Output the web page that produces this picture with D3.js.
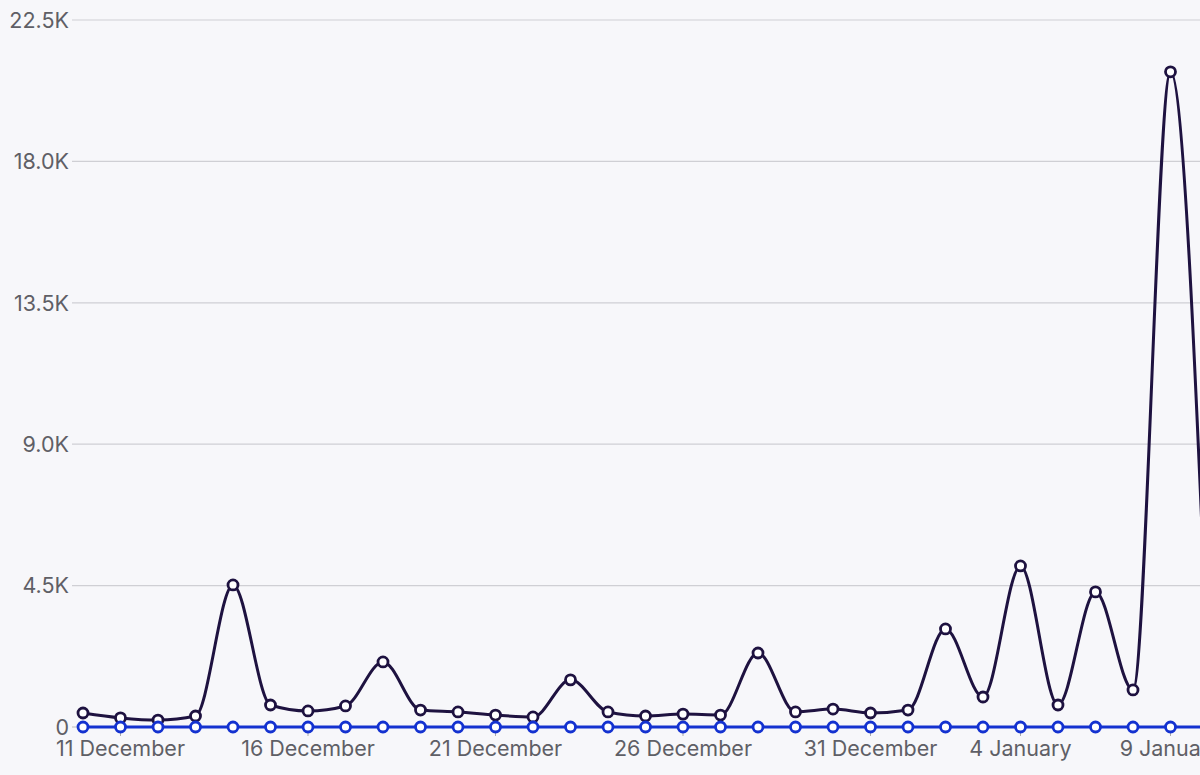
<!DOCTYPE html><html><head><meta charset="utf-8">
<script src="https://cdn.jsdelivr.net/npm/d3@7"></script>
<style>body{margin:0;background:#f7f7fa;}svg{display:block;font-family:Inter,"Open Sans",sans-serif;}</style></head><body>
<svg id="c" width="1200" height="775"></svg>
<script>
const seriesA=[445,290,220,350,4520,700,510,670,2070,540,480,380,320,1500,480,350,410,380,2355,480,570,445,540,3120,955,5125,700,4300,1180,20850,1800];
const seriesB=seriesA.map(()=>0);
const tickIdx=[1,6,11,16,21,25,29];
const tickLabels=["11 December","16 December","21 December","26 December","31 December","4 January","9 January"];
const yTicks=[0,4500,9000,13500,18000,22500];
const yLabels=["0","4.5K","9.0K","13.5K","18.0K","22.5K"];

const svg=d3.select("#c");
const x=d3.scaleLinear().domain([0,1]).range([83,120.5]);
const y=d3.scaleLinear().domain([0,22500]).range([727,20]);
const g=svg.append("g");
yTicks.forEach((t,i)=>{
  if(i>0) g.append("line").attr("x1",72).attr("x2",1200).attr("y1",y(t)).attr("y2",y(t)).attr("stroke","#cfcfd4").attr("stroke-width",1.2);
  else g.append("line").attr("x1",72).attr("x2",80).attr("y1",y(t)).attr("y2",y(t)).attr("stroke","#bbb");
  g.append("text").attr("x",69).attr("y",y(t)).attr("dy","0.36em").attr("text-anchor","end").attr("fill","#5f5f66").attr("font-size",21.5).text(yLabels[i]);
});
tickIdx.forEach((t,i)=>{
  g.append("line").attr("x1",x(t)).attr("x2",x(t)).attr("y1",727).attr("y2",736).attr("stroke","#aaa");
  g.append("text").attr("x",x(t)).attr("y",756).attr("text-anchor","middle").attr("fill","#5f5f66").attr("font-size",21.5).text(tickLabels[i]);
});
const line=d3.line().x((d,i)=>x(i)).y(d=>y(d)).curve(d3.curveMonotoneX);
function draw(data,col){
  svg.append("path").datum(data).attr("d",line).attr("fill","none").attr("stroke",col).attr("stroke-width",3);
  svg.selectAll(null).data(data).enter().append("circle").attr("cx",(d,i)=>x(i)).attr("cy",d=>y(d)).attr("r",5).attr("fill","#fff").attr("stroke",col).attr("stroke-width",2.8);
}
draw(seriesA,"#1e1240");
draw(seriesB,"#1432d0");
</script></body></html>
